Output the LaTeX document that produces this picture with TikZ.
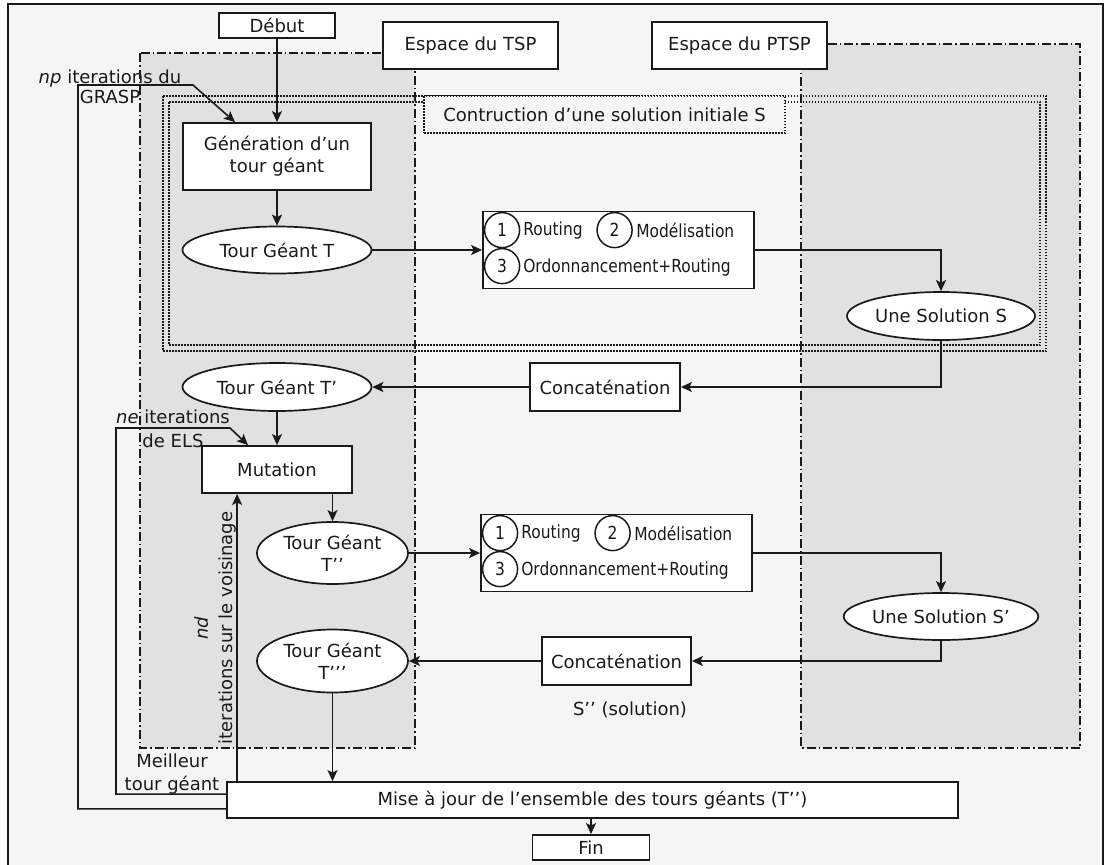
\documentclass[tikz,border=0pt]{standalone}
\usepackage{fontspec}
\setmainfont{DejaVu Sans}
\newfontfamily\condfont{DejaVu Sans}[FakeStretch=0.86]
\usetikzlibrary{shapes.geometric,arrows.meta,calc}
\definecolor{bgc}{HTML}{F5F5F5}
\definecolor{regc}{HTML}{E1E1E1}
\definecolor{ink}{HTML}{1A1A1A}
\begin{document}
\begin{tikzpicture}[x=1pt,y=-1pt,
  font=\fontsize{18}{22}\selectfont, text=ink,
  box/.style={draw=ink, fill=white, line width=1.8pt, inner sep=0pt, align=center},
  ell/.style={ellipse, draw=ink, fill=white, line width=1.7pt, inner sep=0pt, align=center},
  num/.style={circle, draw=ink, line width=1.5pt, minimum size=35pt, inner sep=0pt, font=\condfont\fontsize{18}{22}\selectfont},
  btxt/.style={anchor=west, inner sep=0pt, font=\condfont\fontsize{18}{22}\selectfont},
  conn/.style={draw=ink, line width=1.6pt, -{Stealth[length=11pt,width=10pt,inset=2.5pt]}},
  region/.style={draw=ink, fill=regc, line width=1.7pt, dash pattern=on 9pt off 3pt on 1.5pt off 3pt},
  cdot/.style={draw=ink, line width=1.3pt, dash pattern=on 1.5pt off 1.5pt},
  lbl/.style={align=center, inner sep=0pt}
]
\clip (0,0) rectangle (1112,865);
\fill[white] (0,0) rectangle (1112,865);
\draw[ink, fill=bgc, line width=1.8pt] (8,4) rectangle (1103,885);

% regions
\draw[region] (140,53) rectangle (415,748);
\draw[region] (801,44) rectangle (1080,748);

% construction frame
\draw[cdot] (163,96) rectangle (1046,351);
\draw[cdot] (169,102) rectangle (1040,345);
\node[cdot, fill=bgc, minimum width=361pt, minimum height=37pt, inner sep=0pt] (clab) at (604.5,114.5) {Contruction d’une solution initiale S};

% nodes
\node[box, minimum width=116pt, minimum height=25pt] (debut) at (277,25.5) {Début};
\node[box, minimum width=175pt, minimum height=47pt] (etsp) at (470.5,45.5) {Espace du TSP};
\node[box, minimum width=175pt, minimum height=47pt] (eptsp) at (739.5,45.5) {Espace du PTSP};
\node[box, minimum width=188pt, minimum height=67pt] (gen) at (277,156.5) {Génération d’un\\tour géant};
\node[ell, minimum width=189pt, minimum height=47pt] (T1) at (277,250) {Tour Géant T};

\node[box, minimum width=271pt, minimum height=77pt] (r1) at (618.5,250) {};
\node[num] (r1c1) at ($(r1.north west)+(20,19.5)$) {1};
\node[btxt] (r1t1) at ($(r1.north west)+(41,20)$) {Routing};
\node[num] (r1c2) at ($(r1.north west)+(132.5,19.5)$) {2};
\node[btxt] (r1t2) at ($(r1.north west)+(154,20)$) {Modélisation};
\node[num] (r1c3) at ($(r1.north west)+(20,55.5)$) {3};
\node[btxt] (r1t3) at ($(r1.north west)+(41,57)$) {Ordonnancement+Routing};

\node[ell, minimum width=188pt, minimum height=48pt] (S1) at (941,316) {Une Solution S};
\node[box, minimum width=150pt, minimum height=48pt] (cat1) at (605,387) {Concaténation};
\node[ell, minimum width=189pt, minimum height=48pt] (T2) at (277,387) {Tour Géant T’};
\node[box, minimum width=150pt, minimum height=47pt] (mut) at (277,469.5) {Mutation};
\node[ell, minimum width=151pt, minimum height=62pt] (T3) at (332.5,553) {Tour Géant\\T’’};

\node[box, minimum width=271pt, minimum height=77pt] (r2) at (616.5,553) {};
\node[num] (r2c1) at ($(r2.north west)+(20,19.5)$) {1};
\node[btxt] (r2t1) at ($(r2.north west)+(41,20)$) {Routing};
\node[num] (r2c2) at ($(r2.north west)+(132.5,19.5)$) {2};
\node[btxt] (r2t2) at ($(r2.north west)+(154,20)$) {Modélisation};
\node[num] (r2c3) at ($(r2.north west)+(20,55.5)$) {3};
\node[btxt] (r2t3) at ($(r2.north west)+(41,57)$) {Ordonnancement+Routing};

\node[ell, minimum width=188pt, minimum height=47pt] (S2) at (941,616.5) {Une Solution S’};
\node[box, minimum width=149pt, minimum height=48pt] (cat2) at (616.5,661) {Concaténation};
\node[ell, minimum width=151pt, minimum height=63pt] (T4) at (332.5,661) {Tour Géant\\T’’’};
\node[lbl] (ssol) at (630,710) {S’’ (solution)};
\node[box, minimum width=731pt, minimum height=36pt] (maj) at (592.5,800) {Mise à jour de l’ensemble des tours géants (T’’)};
\node[box, minimum width=117pt, minimum height=25pt] (fin) at (591,847.5) {Fin};

% labels
\node[lbl, font=\fontsize{18}{20}\selectfont] (lgrasp) at (110,87) {\textit{np} iterations du\\GRASP};
\node[lbl, font=\fontsize{18}{24}\selectfont] (lne) at (173,429) {\textit{ne} iterations\\de ELS};
\node[lbl, font=\fontsize{18}{23}\selectfont] (lmeil) at (172,774.5) {Meilleur\\tour géant};
\node[lbl, rotate=90, font=\fontsize{18}{25}\selectfont] (lnd) at (215.5,628) {\textit{nd}\\iterations sur le voisinage};

% connectors
\draw[conn] (debut) -- (gen);
\draw[conn] (gen) -- (T1);
\draw[conn] (T1.east) -- (r1.west);
\draw[conn] (r1.east) -| (S1.north);
\draw[conn] (S1.south) |- (cat1.east);
\draw[conn] (cat1.west) -- (T2.east);
\draw[conn] (T2) -- (mut);
\draw[conn] (mut.south -| T3.north) -- (T3.north);
\draw[conn] (T3.east) -- (r2.west);
\draw[conn] (r2.east) -| (S2.north);
\draw[conn] (S2.south) |- (cat2.east);
\draw[conn] (cat2.west) -- (T4.east);
\draw[conn] (T4.south) -- (T4.south |- maj.north);
\draw[conn] (maj.south -| fin.north) -- (fin.north);

% loops
\coordinate (gr1) at (78,85);
\coordinate (gr2) at (193,85);
\draw[conn] ([yshift=10pt]maj.south west) -| (gr1) -- (gr2) -- ([xshift=-42pt]gen.north);
\coordinate (ne1) at (116,428);
\coordinate (ne2) at (230,428);
\draw[conn] ([yshift=-13pt]maj.north west) -| (ne1) -- (ne2) -- ([xshift=-29pt]mut.north);
\coordinate (nd0) at ([xshift=11pt]maj.north west);
\draw[conn] (nd0) -- (nd0 |- mut.south);
\end{tikzpicture}
\end{document}
